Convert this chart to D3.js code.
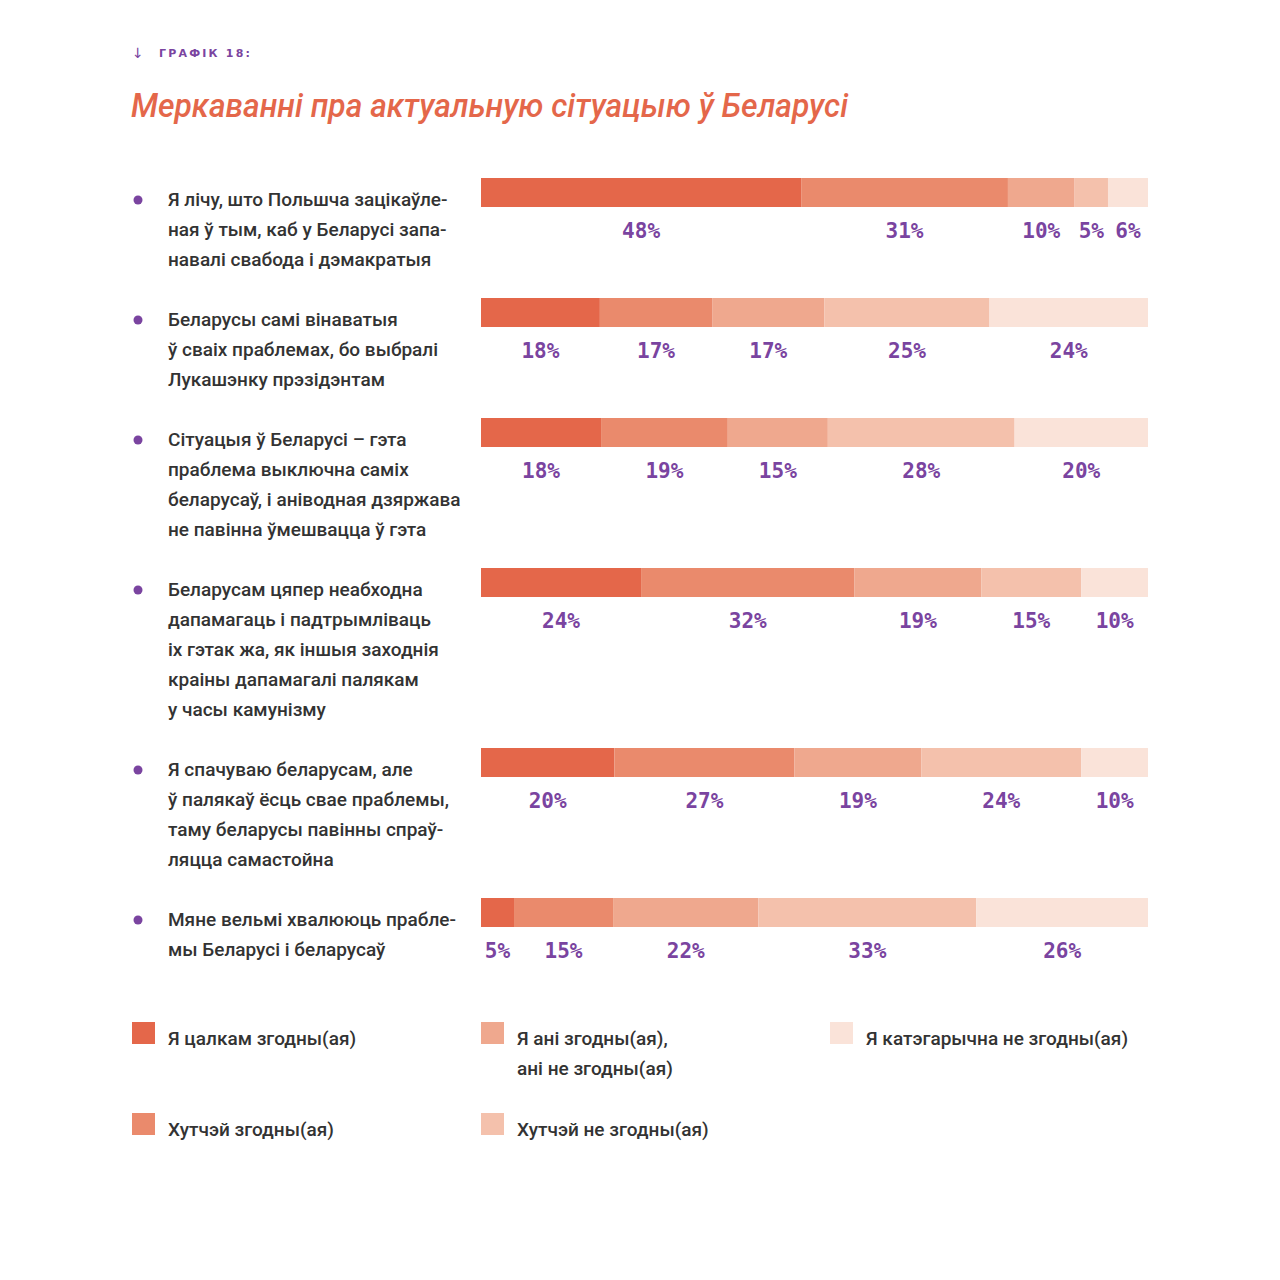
<!DOCTYPE html>
<html><head><meta charset="utf-8">
<script src="https://cdn.jsdelivr.net/npm/d3@7"></script>
<style>
html,body{margin:0;padding:0;background:#fff;}
svg{display:block;}
</style></head>
<body>
<svg id="chart" width="1280" height="1280"></svg>
<script>
const headerText = "ГРАФІК 18:";
const titleText = "Меркаванні пра актуальную сітуацыю ў Беларусі";
const statements = [
  ["Я лічу, што Польшча зацікаўле-", "ная ў тым, каб у Беларусі запа-", "навалі свабода і дэмакратыя"],
  ["Беларусы самі вінаватыя", "ў сваіх праблемах, бо выбралі", "Лукашэнку прэзідэнтам"],
  ["Сітуацыя ў Беларусі – гэта", "праблема выключна саміх", "беларусаў, і аніводная дзяржава", "не павінна ўмешвацца ў гэта"],
  ["Беларусам цяпер неабходна", "дапамагаць і падтрымліваць", "іх гэтак жа, як іншыя заходнія", "краіны дапамагалі палякам", "у часы камунізму"],
  ["Я спачуваю беларусам, але", "ў палякаў ёсць свае праблемы,", "таму беларусы павінны спраў-", "ляцца самастойна"],
  ["Мяне вельмі хвалююць прабле-", "мы Беларусі і беларусаў"]
];
const fullyAgree    = [48, 18, 18, 24, 20, 5];
const ratherAgree   = [31, 17, 19, 32, 27, 15];
const neither       = [10, 17, 15, 19, 19, 22];
const ratherDisagree= [5, 25, 28, 15, 24, 33];
const stronglyDis   = [6, 24, 20, 10, 10, 26];
const seriesNames = ["Я цалкам згодны(ая)", "Хутчэй згодны(ая)", "Я ані згодны(ая),\nані не згодны(ая)", "Хутчэй не згодны(ая)", "Я катэгарычна не згодны(ая)"];
const colors = ["#e4674a", "#ea8a6c", "#efa88e", "#f4c1ac", "#fae3d9"];

const series = [fullyAgree, ratherAgree, neither, ratherDisagree, stronglyDis];
const purple = "#7a44a0";
const textFont = "'Liberation Sans Narrow', 'Roboto', sans-serif";

const svg = d3.select("#chart");

// header
svg.append("text").attr("x", 132).attr("y", 58).attr("fill", purple)
  .attr("font-family", "DejaVu Sans").attr("font-size", 14).text("↓");
svg.append("text").attr("x", 159).attr("y", 57).attr("fill", purple)
  .attr("font-family", "DejaVu Sans").attr("font-weight", "bold")
  .attr("font-size", 11).attr("letter-spacing", "2.2px").text(headerText);

// title
svg.append("text").attr("x", 131).attr("y", 117).attr("fill", "#e4674a")
  .attr("font-family", textFont).attr("font-style", "italic").attr("font-weight", 500)
  .attr("font-size", 33).attr("textLength", 717).attr("lengthAdjust","spacingAndGlyphs").text(titleText);

// row layout from line counts
const lineH = 30;
const rowTops = [];
let yCur = 178;
statements.forEach(s => { rowTops.push(yCur); yCur += s.length * lineH + 30; });

const barH = 29;
const x0 = 481, x1 = 1148;

statements.forEach((lines, i) => {
  const top = rowTops[i];
  const g = svg.append("g");
  g.append("circle").attr("cx", 138).attr("cy", top + 22).attr("r", 4.5).attr("fill", purple);
  lines.forEach((ln, k) => {
    g.append("text").attr("x", 168).attr("y", top + 28 + k * lineH)
      .attr("fill", "#333").attr("font-family", textFont).attr("font-weight", 500)
      .attr("font-size", 19).text(ln);
  });
  const vals = series.map(s => s[i]);
  const total = d3.sum(vals);
  const xs = d3.scaleLinear().domain([0, total]).range([x0, x1]);
  let acc = 0;
  vals.forEach((v, j) => {
    const a = acc, b = acc + v;
    g.append("rect").attr("x", xs(a)).attr("y", top).attr("width", xs(b) - xs(a))
      .attr("height", barH).attr("fill", colors[j]);
    const cx = (xs(a) + xs(b)) / 2;
    g.append("text").attr("x", cx).attr("y", top + 60)
      .attr("text-anchor", "middle").attr("fill", purple)
      .attr("font-family", "'DejaVu Sans Mono', monospace").attr("font-weight", "bold")
      .attr("font-size", 21).text(v + "%");
    acc = b;
  });
});

// legend
const legendPos = [
  {x: 132, y: 1022}, {x: 132, y: 1113},
  {x: 481, y: 1022}, {x: 481, y: 1113},
  {x: 830, y: 1022}
];
seriesNames.forEach((name, j) => {
  const p = legendPos[j];
  svg.append("rect").attr("x", p.x).attr("y", p.y).attr("width", 23).attr("height", 22).attr("fill", colors[j]);
  name.split("\n").forEach((ln, k) => {
    svg.append("text").attr("x", p.x + 36).attr("y", p.y + 23 + k * 30)
      .attr("fill", "#333").attr("font-family", textFont).attr("font-weight", 500)
      .attr("font-size", 19).text(ln);
  });
});
</script>
</body></html>
